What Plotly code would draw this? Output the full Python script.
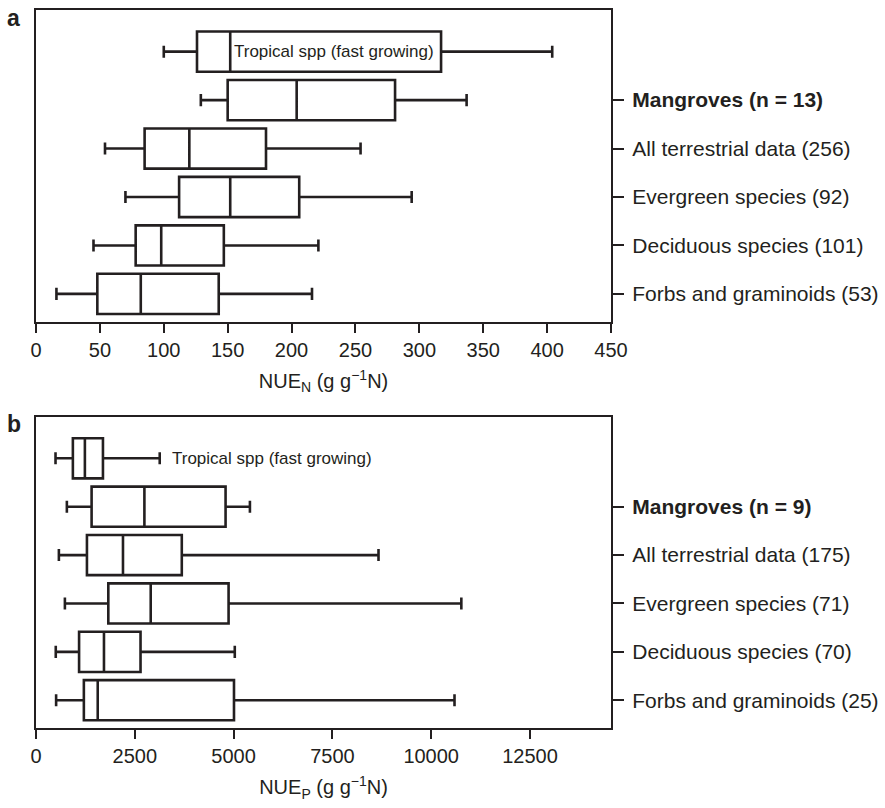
import plotly.graph_objects as go

# Row order, bottom to top; the top row (tropical species) has no axis label
categories_a = ["Forbs and graminoids (53)", "Deciduous species (101)", "Evergreen species (92)",
                "All terrestrial data (256)", "<b>Mangroves (n = 13)</b>", ""]
categories_b = ["Forbs and graminoids (25)", "Deciduous species (70)", "Evergreen species (71)",
                "All terrestrial data (175)", "<b>Mangroves (n = 9)</b>", ""]
positions = [0, 1, 2, 3, 4, 5]

# Panel a: nitrogen use efficiency, NUE_N (g g-1 N)
nue_n_low = [16, 45, 70, 54, 129, 100]
nue_n_q1 = [48, 78, 112, 85, 150, 126]
nue_n_med = [82, 98, 152, 120, 204, 152]
nue_n_q3 = [143, 147, 206, 180, 281, 317]
nue_n_high = [216, 221, 294, 254, 337, 404]

# Panel b: phosphorus use efficiency, NUE_P
nue_p_low = [509, 500, 731, 579, 781, 494]
nue_p_q1 = [1211, 1090, 1830, 1289, 1407, 933]
nue_p_med = [1562, 1720, 2903, 2201, 2743, 1237]
nue_p_q3 = [5010, 2645, 4873, 3689, 4797, 1694]
nue_p_high = [10590, 5030, 10763, 8667, 5413, 3131]

ticks_a = [0, 50, 100, 150, 200, 250, 300, 350, 400, 450]
ticks_b = [0, 2500, 5000, 7500, 10000, 12500]

INK = "#231f20"
FONT = "Liberation Sans, Arial, Helvetica, sans-serif"


def box_trace(low, q1, med, q3, high, xa, ya):
    return go.Box(
        orientation="h", y=positions, q1=q1, median=med, q3=q3,
        lowerfence=low, upperfence=high, width=0.83, whiskerwidth=0.3,
        fillcolor="white", line=dict(color=INK, width=2.6),
        boxpoints=False, showlegend=False, hoverinfo="skip",
        xaxis=xa, yaxis=ya,
    )


fig = go.Figure()
fig.add_trace(box_trace(nue_n_low, nue_n_q1, nue_n_med, nue_n_q3, nue_n_high, "x", "y"))
fig.add_trace(box_trace(nue_p_low, nue_p_q1, nue_p_med, nue_p_q3, nue_p_high, "x2", "y2"))

W, H = 885, 808
xdom = [36 / W, 611 / W]

xaxis_common = dict(
    showline=True, linecolor=INK, linewidth=2.2, mirror=True,
    ticks="outside", ticklen=9, tickwidth=2, tickcolor=INK,
    showgrid=False, zeroline=False, fixedrange=True, automargin=False,
    tickfont=dict(family=FONT, size=20, color=INK),
    title_font=dict(family=FONT, size=20, color=INK),
    domain=xdom,
)
yaxis_common = dict(
    side="right", showline=True, linecolor=INK, linewidth=2.2, mirror=True,
    ticks="outside", ticklen=11, tickwidth=2, tickcolor=INK,
    showgrid=False, zeroline=False, fixedrange=True, automargin=False,
    tickfont=dict(family=FONT, size=21, color=INK),
    range=[-0.58, 5.86], tickvals=positions[:5], ticklabelstandoff=4,
)

fig.update_layout(
    width=W, height=H, margin=dict(l=0, r=0, t=0, b=0),
    paper_bgcolor="white", plot_bgcolor="white",
    font=dict(family=FONT, color=INK),
    xaxis=dict(xaxis_common, range=[0, 450], tickvals=ticks_a,
               ticktext=[str(t) for t in ticks_a], anchor="y",
               title=dict(text="NUE<sub>N</sub> (g g<sup>\u22121</sup>N)", standoff=14)),
    yaxis=dict(yaxis_common, domain=[1 - 322 / H, 1 - 10 / H], anchor="x",
               ticktext=categories_a[:5]),
    xaxis2=dict(xaxis_common, range=[0, 14550], tickvals=ticks_b,
                ticktext=[str(t) for t in ticks_b], anchor="y2",
                title=dict(text="NUE<sub>P</sub> (g g<sup>\u22121</sup>N)", standoff=14)),
    yaxis2=dict(yaxis_common, domain=[1 - 728.3 / H, 1 - 416.7 / H], anchor="x2",
                ticktext=categories_b[:5]),
)

annotations = [
    dict(text="Tropical spp (fast growing)", x=153.5, y=5, xref="x", yref="y",
         xanchor="left", yanchor="middle", showarrow=False,
         font=dict(family=FONT, size=17, color=INK)),
    dict(text="Tropical spp (fast growing)", x=3380, y=5, xref="x2", yref="y2",
         xanchor="left", yanchor="middle", showarrow=False,
         font=dict(family=FONT, size=17, color=INK)),
    dict(text="<b>a</b>", x=5 / W, y=1 - 3 / H, xref="paper", yref="paper",
         xanchor="left", yanchor="top", showarrow=False,
         font=dict(family=FONT, size=23, color=INK)),
    dict(text="<b>b</b>", x=5 / W, y=1 - 409 / H, xref="paper", yref="paper",
         xanchor="left", yanchor="top", showarrow=False,
         font=dict(family=FONT, size=23, color=INK)),
]
fig.update_layout(annotations=annotations)

fig.write_html("out.html")
